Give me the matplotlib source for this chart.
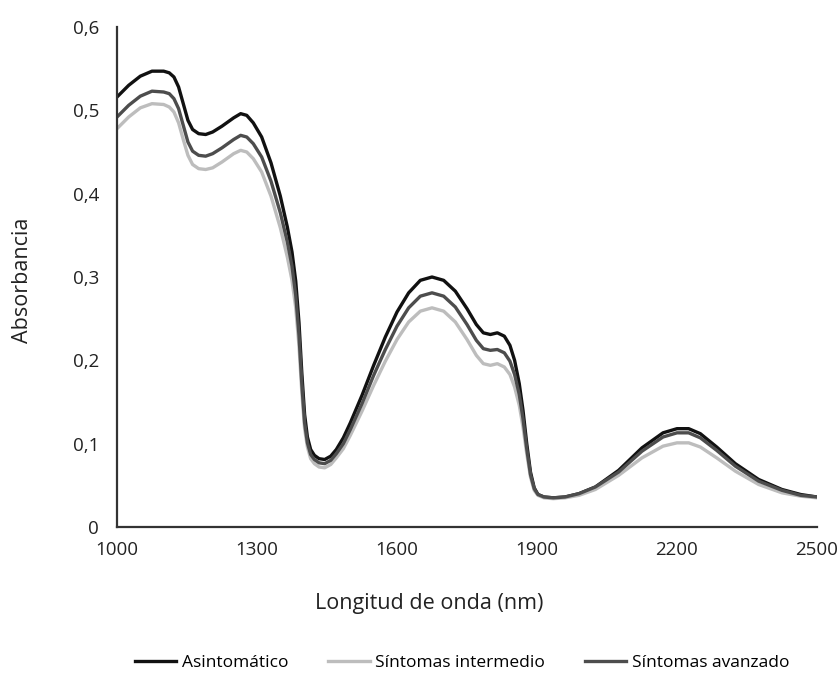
import matplotlib
matplotlib.use("Agg")
import matplotlib.pyplot as plt
from matplotlib.ticker import FixedLocator, FuncFormatter

plt.rcParams["font.family"] = ["Open Sans", "DejaVu Sans"]

# wavelength (nm), shared by the three spectra
wavelength = [1000, 1025, 1050, 1075, 1100, 1112, 1122, 1132, 1142, 1152, 1162, 1175, 1190, 1205, 1225, 1250,
              1265, 1278, 1292, 1310, 1330, 1350, 1365, 1375, 1383, 1390, 1396, 1402, 1408, 1415, 1423, 1433,
              1445, 1458, 1470, 1485, 1500, 1525, 1550, 1575, 1600, 1625, 1650, 1675, 1700, 1725, 1750, 1770,
              1785, 1800, 1815, 1830, 1842, 1852, 1862, 1870, 1878, 1886, 1894, 1902, 1915, 1935, 1960, 1990,
              2025, 2075, 2125, 2170, 2200, 2225, 2250, 2285, 2325, 2375, 2425, 2465, 2500]

asintomatico = [0.516, 0.530, 0.541, 0.547, 0.547, 0.545, 0.540, 0.528, 0.508, 0.488, 0.477, 0.472, 0.471, 0.474, 0.481, 0.491,
                0.496, 0.494, 0.485, 0.468, 0.437, 0.397, 0.360, 0.330, 0.295, 0.245, 0.185, 0.135, 0.108, 0.093, 0.086, 0.082,
                0.081, 0.085, 0.093, 0.107, 0.125, 0.158, 0.194, 0.228, 0.258, 0.281, 0.296, 0.300, 0.296, 0.283, 0.262, 0.243,
                0.233, 0.231, 0.233, 0.229, 0.218, 0.200, 0.172, 0.140, 0.100, 0.066, 0.047, 0.039, 0.036, 0.035, 0.036, 0.040,
                0.048, 0.068, 0.095, 0.113, 0.118, 0.118, 0.112, 0.096, 0.076, 0.057, 0.045, 0.039, 0.036]

intermedio = [0.478, 0.492, 0.503, 0.508, 0.507, 0.504, 0.498, 0.485, 0.465, 0.446, 0.435, 0.430, 0.429, 0.431, 0.438, 0.448,
              0.452, 0.450, 0.442, 0.426, 0.397, 0.359, 0.324, 0.296, 0.263, 0.217, 0.162, 0.118, 0.096, 0.082, 0.076, 0.072,
              0.071, 0.075, 0.083, 0.094, 0.110, 0.139, 0.170, 0.199, 0.225, 0.246, 0.259, 0.263, 0.259, 0.246, 0.225, 0.206,
              0.196, 0.194, 0.196, 0.192, 0.183, 0.168, 0.146, 0.120, 0.088, 0.060, 0.044, 0.038, 0.035, 0.034, 0.035, 0.038,
              0.045, 0.062, 0.083, 0.097, 0.101, 0.101, 0.096, 0.083, 0.067, 0.051, 0.041, 0.037, 0.035]

avanzado = [0.492, 0.506, 0.517, 0.523, 0.522, 0.520, 0.514, 0.502, 0.482, 0.462, 0.451, 0.446, 0.445, 0.448, 0.455, 0.465,
            0.470, 0.468, 0.460, 0.444, 0.415, 0.377, 0.342, 0.313, 0.278, 0.230, 0.172, 0.125, 0.101, 0.087, 0.081, 0.077,
            0.076, 0.080, 0.088, 0.100, 0.117, 0.148, 0.182, 0.213, 0.241, 0.263, 0.277, 0.281, 0.277, 0.264, 0.243, 0.224,
            0.214, 0.212, 0.213, 0.209, 0.199, 0.183, 0.159, 0.130, 0.094, 0.063, 0.046, 0.039, 0.036, 0.035, 0.036, 0.040,
            0.048, 0.066, 0.091, 0.108, 0.113, 0.113, 0.107, 0.092, 0.073, 0.055, 0.044, 0.038, 0.036]

x_ticks = [1000, 1300, 1600, 1900, 2200, 2500]
y_ticks = [0, 0.1, 0.2, 0.3, 0.4, 0.5, 0.6]

fig = plt.figure(figsize=(8.38, 6.73), dpi=100)
ax = fig.add_axes([117 / 838, 1 - 527 / 673, 700 / 838, 500 / 673])

ax.plot(wavelength, asintomatico, color="#111111", lw=2.4, label="Asintomático", solid_joinstyle="round")
ax.plot(wavelength, intermedio, color="#bdbdbd", lw=2.4, label="Síntomas intermedio", solid_joinstyle="round")
ax.plot(wavelength, avanzado, color="#4d4d4d", lw=2.4, label="Síntomas avanzado", solid_joinstyle="round")

ax.set_xlim(1000, 2500)
ax.set_ylim(0, 0.6)
ax.xaxis.set_major_locator(FixedLocator(x_ticks))
ax.yaxis.set_major_locator(FixedLocator(y_ticks))
ax.yaxis.set_major_formatter(FuncFormatter(lambda v, _: "0" if v == 0 else f"{v:.1f}".replace(".", ",")))
ax.tick_params(length=0, labelsize=13.5, colors="#222222")
ax.tick_params(axis="y", pad=13)
ax.tick_params(axis="x", pad=10)

for side in ("top", "right"):
    ax.spines[side].set_visible(False)
for side in ("left", "bottom"):
    ax.spines[side].set_color("#333333")
    ax.spines[side].set_linewidth(1.6)

fig.text(23 / 838, 1 - 280 / 673, "Absorbancia", rotation=90, ha="center", va="center", fontsize=15.5, color="#222222")
fig.text(429 / 838, 1 - 603 / 673, "Longitud de onda (nm)", ha="center", va="center", fontsize=15.5, color="#222222")

fig.legend(loc="center", bbox_to_anchor=(462 / 838, 1 - 663 / 673), ncol=3, frameon=False, fontsize=12.5,
           handlelength=2.4, handletextpad=0.3, columnspacing=2.3)

fig.savefig("out.png", dpi=100, facecolor="white")
